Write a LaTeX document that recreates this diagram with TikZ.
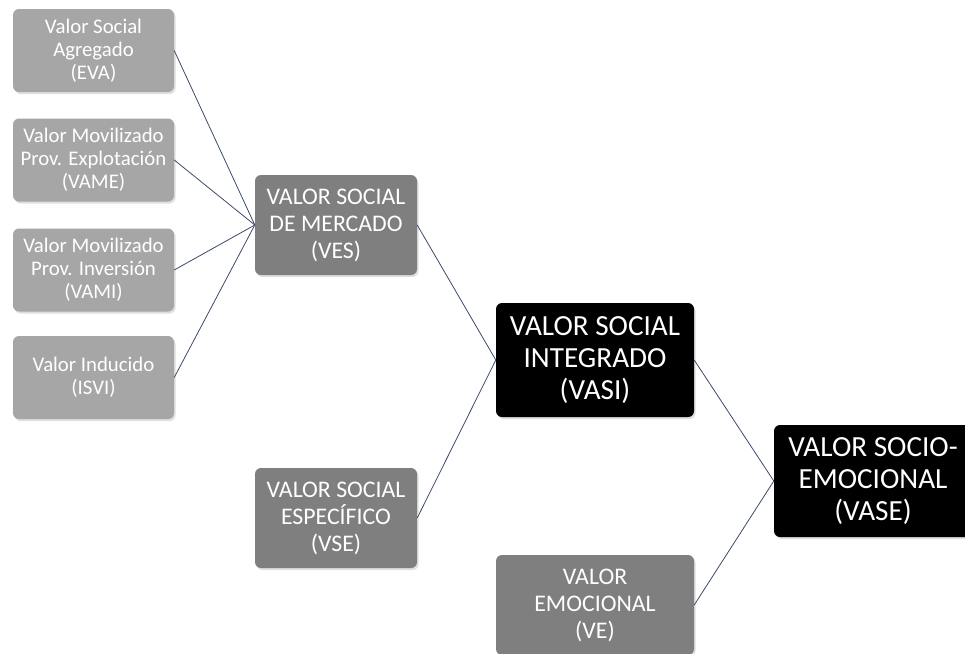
\documentclass[tikz,border=0pt]{standalone}
\usepackage{fontspec}
\setmainfont{Carlito}
\usetikzlibrary{shadows}
\definecolor{lightbox}{RGB}{166,166,166}
\definecolor{darkbox}{RGB}{127,127,127}
\definecolor{linkcol}{RGB}{60,75,105}
\tikzset{
  basebox/.style={rounded corners=6pt, text=white, align=center, inner sep=0pt,
    drop shadow={shadow xshift=1.5pt, shadow yshift=-2pt, opacity=0.25}},
  smallbox/.style={basebox, fill=lightbox, minimum width=161pt, minimum height=83pt, font=\fontsize{20.8}{23}\selectfont},
  midbox/.style={basebox, fill=darkbox, minimum width=162pt, minimum height=100pt, font=\fontsize{23.8}{27}\selectfont},
  bigbox/.style={basebox, fill=black, minimum width=198pt, minimum height=114pt, font=\fontsize{29.2}{32}\selectfont},
  link/.style={draw=linkcol, line width=0.8pt}
}
\begin{document}
\begin{tikzpicture}[x=1pt,y=-1pt]
\useasboundingbox (0,0) rectangle (965,653);
\fill[white] (0,0) rectangle (965,653);
\node[smallbox] (eva) at (93.5,50.5) {Valor Social\\Agregado\\(EVA)};
\node[smallbox] (vame) at (93.5,160) {Valor Movilizado\\Prov. Explotación\\(VAME)};
\node[smallbox] (vami) at (93.5,270) {Valor Movilizado\\Prov. Inversión\\(VAMI)};
\node[smallbox] (isvi) at (93.5,377.5) {Valor Inducido\\(ISVI)};
\node[midbox] (ves) at (336,225) {VALOR SOCIAL\\DE MERCADO\\(VES)};
\node[midbox] (vse) at (336,518) {VALOR SOCIAL\\ESPECÍFICO\\(VSE)};
\node[bigbox] (vasi) at (595,360) {VALOR SOCIAL\\INTEGRADO\\(VASI)};
\node[midbox, minimum width=198pt] (ve) at (595,605) {VALOR\\EMOCIONAL\\(VE)};
\node[bigbox, minimum height=112pt] (vase) at (873,481) {VALOR SOCIO-\\EMOCIONAL\\(VASE)};
\draw[link] (eva.east) -- (ves.west);
\draw[link] (vame.east) -- (ves.west);
\draw[link] (vami.east) -- (ves.west);
\draw[link] (isvi.east) -- (ves.west);
\draw[link] (ves.east) -- (vasi.west);
\draw[link] (vse.east) -- (vasi.west);
\draw[link] (vasi.east) -- (vase.west);
\draw[link] (ve.east) -- (vase.west);
\end{tikzpicture}
\end{document}
